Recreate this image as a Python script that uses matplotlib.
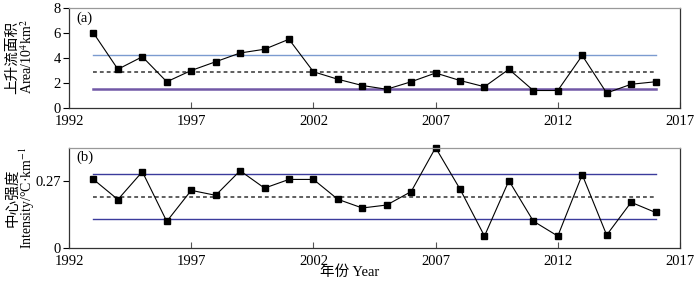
import numpy as np
import matplotlib
matplotlib.use("Agg")
import matplotlib.pyplot as plt

plt.rcParams['font.family'] = ['Liberation Serif', 'Noto Sans CJK SC']
plt.rcParams['mathtext.fontset'] = 'stix'

# data
years = list(range(1993, 2017))
area = [6.0, 3.1, 4.1, 2.1, 3.0, 3.7, 4.4, 4.7, 5.5, 2.9, 2.3, 1.8,
        1.5, 2.1, 2.8, 2.2, 1.7, 3.1, 1.4, 1.4, 4.2, 1.2, 1.9, 2.1]
intensity = [0.277, 0.196, 0.308, 0.108, 0.233, 0.213, 0.312, 0.242,
             0.277, 0.277, 0.197, 0.162, 0.174, 0.228, 0.405, 0.238,
             0.049, 0.272, 0.109, 0.049, 0.296, 0.053, 0.185, 0.144]
area_ref = [4.21, 2.9, 1.52]          # upper, mean, lower
intensity_ref = [0.300, 0.208, 0.116]
xticks = [1992, 1997, 2002, 2007, 2012, 2017]

fig = plt.figure(figsize=(7, 2.85), dpi=100)
axA = fig.add_axes([0.0986, 0.621, 0.8728, 0.351])
axB = fig.add_axes([0.0986, 0.129, 0.8728, 0.353])

x0, x1 = years[0], years[-1]

# (a) upwelling area
axA.plot([x0, x1], [area_ref[0]] * 2, color='#7b9bd0', lw=1.0)
axA.plot([x0, x1], [area_ref[1]] * 2, color='#333333', lw=1.1, ls=(0, (2.5, 2)))
axA.plot([x0, x1], [area_ref[2]] * 2, color='#7158a6', lw=1.8)
axA.plot(years, area, color='black', lw=0.8, marker='s', ms=4, clip_on=False)
axA.set_xlim(1992, 2017)
axA.set_ylim(0, 8)
axA.set_yticks([0, 2, 4, 6, 8])
axA.text(0.012, 0.9, '(a)', transform=axA.transAxes, fontsize=10.5, va='center')

# (b) center intensity
axB.plot([x0, x1], [intensity_ref[0]] * 2, color='#3b3b9c', lw=1.0)
axB.plot([x0, x1], [intensity_ref[1]] * 2, color='#333333', lw=1.1, ls=(0, (2.5, 2)))
axB.plot([x0, x1], [intensity_ref[2]] * 2, color='#3b3b9c', lw=1.0)
axB.plot(years, intensity, color='black', lw=0.8, marker='s', ms=4, clip_on=False)
axB.set_xlim(1992, 2017)
axB.set_ylim(0, 0.405)
axB.set_yticks([0, 0.27])
axB.set_yticklabels(['0', '0.27'])
axB.text(0.012, 0.9, '(b)', transform=axB.transAxes, fontsize=10.5, va='center')

for ax in (axA, axB):
    ax.set_xticks(xticks)
    ax.tick_params(axis='x', direction='in', length=4, labelsize=10.5, pad=5, color='#555555')
    ax.tick_params(axis='y', direction='out', length=4, labelsize=10.5, pad=2)
    for s in ax.spines.values():
        s.set_linewidth(0.9)
        s.set_color('#333333')
    ax.spines['top'].set_color('#999999')

# y labels: chinese line + english line
fig.text(0.017, 0.80, '上升流面积', rotation=90, ha='center', va='center',
         fontsize=10.5, family=['Noto Sans CJK SC'])
fig.text(0.039, 0.80, r'Area/10$^4$km$^2$', rotation=90, ha='center', va='center',
         fontsize=10)
fig.text(0.017, 0.305, '中心强度', rotation=90, ha='center', va='center',
         fontsize=10.5, family=['Noto Sans CJK SC'])
fig.text(0.039, 0.305, r'Intensity/°C·km$^{-1}$', rotation=90, ha='center', va='center',
         fontsize=10)

fig.text(0.5, 0.045, '年份 Year', ha='center', va='center', fontsize=10.5)

fig.savefig('out.png', dpi=100)
